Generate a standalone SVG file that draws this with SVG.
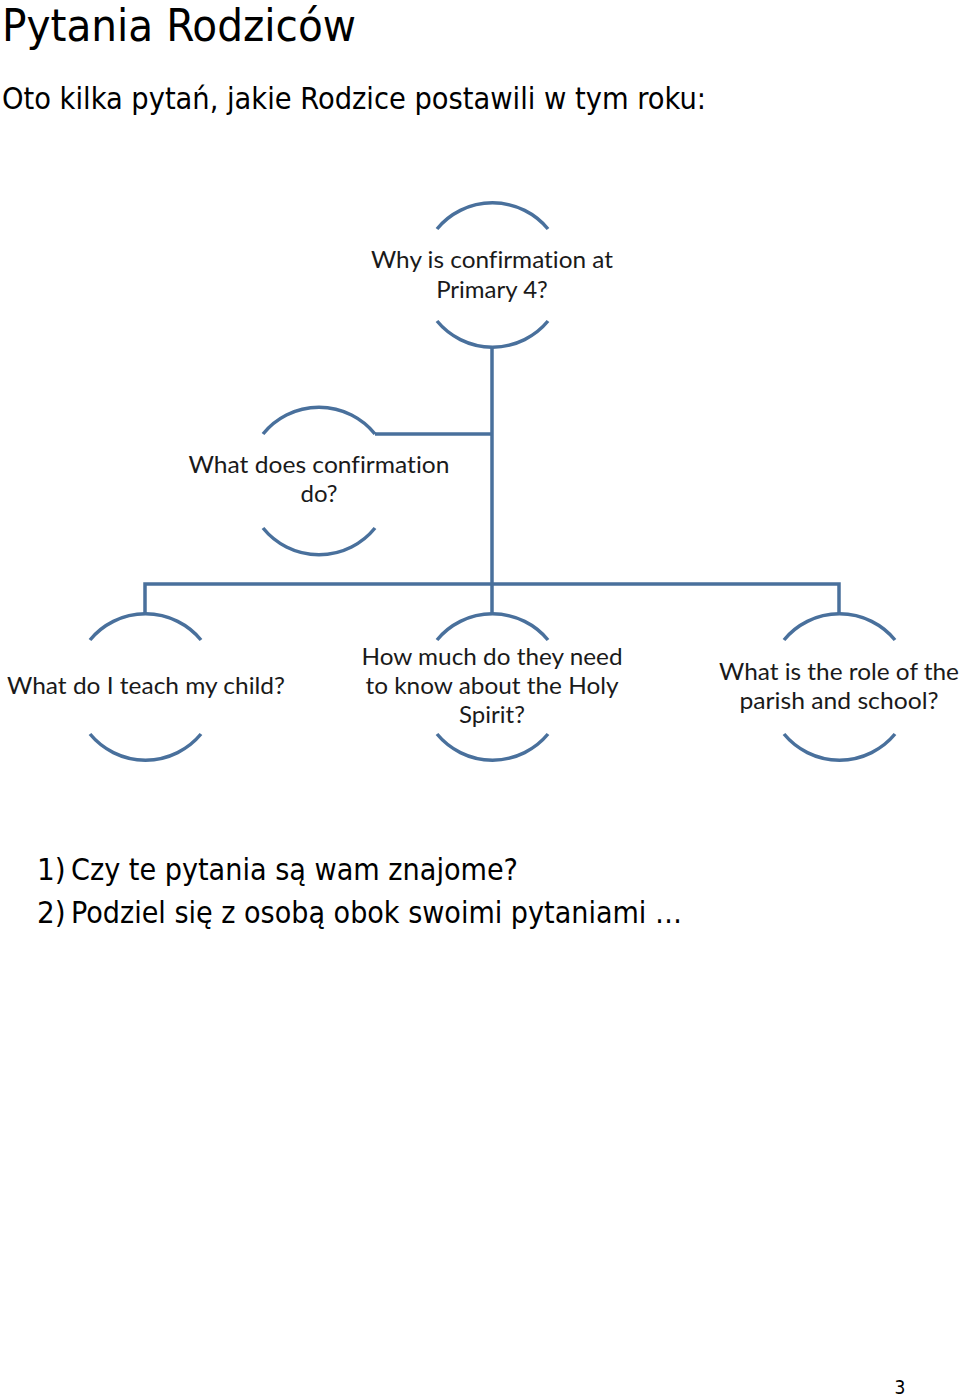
<svg xmlns="http://www.w3.org/2000/svg" width="960" height="1397" viewBox="0 0 960 1397">
<style>
.h{font-family:"DejaVu Sans Condensed","DejaVu Sans",sans-serif;fill:#000}
.t{font-family:Lato,"Open Sans","Liberation Sans",sans-serif;font-size:24px;fill:#1a1a1a;text-anchor:middle;font-variant-ligatures:none}
.arc{fill:none;stroke:#49709c;stroke-width:3.5}
.c{fill:none;stroke:#49709c;stroke-width:3.5}
</style>
<rect width="960" height="1397" fill="#fff"/>
<text class="h" x="2" y="41" font-size="44" textLength="354" lengthAdjust="spacingAndGlyphs">Pytania Rodziców</text>
<text class="h" x="2" y="109" font-size="31" textLength="704" lengthAdjust="spacingAndGlyphs">Oto kilka pytań, jakie Rodzice postawili w tym roku:</text>

<g id="connectors">
<path class="c" d="M492 347 V614"/>
<path class="c" d="M375 434 H492"/>
<path class="c" d="M145 614 V584 H839 V614"/>
</g>

<g id="n1">
<path class="arc" d="M437 229 A72 72 0 0 1 548 229"/>
<path class="arc" d="M437 321 A72 72 0 0 0 548 321"/>
<text class="t" x="492" y="268" textLength="242" lengthAdjust="spacingAndGlyphs">Why is confirmation at</text>
<text class="t" x="492" y="298">Primary 4?</text>
</g>
<g id="n2">
<path class="arc" d="M263 434 A72 72 0 0 1 375 434"/>
<path class="arc" d="M263 528 A72 72 0 0 0 375 528"/>
<text class="t" x="319" y="473" textLength="261" lengthAdjust="spacingAndGlyphs">What does confirmation</text>
<text class="t" x="319" y="502">do?</text>
</g>
<g id="n3">
<path class="arc" d="M90 640 A72 72 0 0 1 201 640"/>
<path class="arc" d="M90 734 A72 72 0 0 0 201 734"/>
<text class="t" x="146" y="694" textLength="278" lengthAdjust="spacingAndGlyphs">What do I teach my child?</text>
</g>
<g id="n4">
<path class="arc" d="M437 640 A72 72 0 0 1 548 640"/>
<path class="arc" d="M437 734 A72 72 0 0 0 548 734"/>
<text class="t" x="492" y="665" textLength="261" lengthAdjust="spacingAndGlyphs">How much do they need</text>
<text class="t" x="492" y="694" textLength="253" lengthAdjust="spacingAndGlyphs">to know about the Holy</text>
<text class="t" x="492" y="723">Spirit?</text>
</g>
<g id="n5">
<path class="arc" d="M784 640 A72 72 0 0 1 895 640"/>
<path class="arc" d="M784 734 A72 72 0 0 0 895 734"/>
<text class="t" x="839" y="680" textLength="240" lengthAdjust="spacingAndGlyphs">What is the role of the</text>
<text class="t" x="839" y="709" textLength="199" lengthAdjust="spacingAndGlyphs">parish and school?</text>
</g>

<text class="h" x="37" y="880" font-size="31">1)</text>
<text class="h" x="71" y="880" font-size="31" textLength="447" lengthAdjust="spacingAndGlyphs">Czy te pytania są wam znajome?</text>
<text class="h" x="37" y="923" font-size="31">2)</text>
<text class="h" x="71" y="923" font-size="31" textLength="611" lengthAdjust="spacingAndGlyphs">Podziel się z osobą obok swoimi pytaniami …</text>
<text class="h" x="900" y="1394" font-size="19" text-anchor="middle">3</text>
</svg>
